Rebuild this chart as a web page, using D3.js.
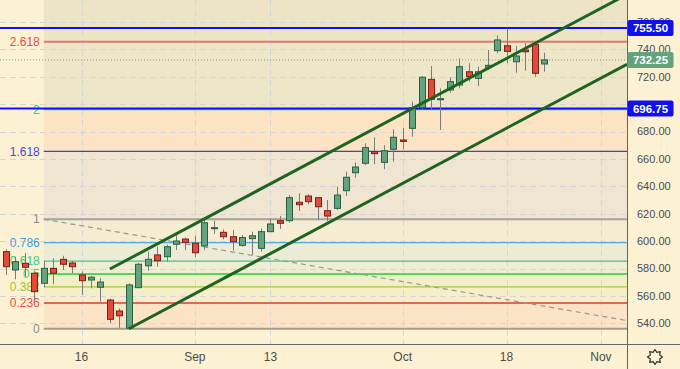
<!DOCTYPE html>
<html>
<head>
<meta charset="utf-8">
<script src="https://cdn.jsdelivr.net/npm/d3@7"></script>
<style>
  body { margin: 0; background: #fdf1d3; }
  svg { display: block; font-family: "Liberation Sans", Arial, sans-serif; }
</style>
</head>
<body>
<svg id="chart" width="680" height="369"></svg>
<script>
// daily candles, Aug 4 -> Oct 22
const dates = ["08-04","08-05","08-06","08-09","08-10","08-11","08-12","08-13","08-16","08-17",
  "08-18","08-19","08-20","08-23","08-24","08-25","08-26","08-27","08-30","08-31",
  "09-01","09-02","09-03","09-06","09-07","09-08","09-09","09-10","09-13","09-14",
  "09-15","09-16","09-17","09-20","09-21","09-22","09-23","09-24","09-27","09-28",
  "09-29","09-30","10-01","10-04","10-05","10-06","10-07","10-08","10-11","10-12",
  "10-13","10-14","10-15","10-18","10-19","10-20","10-21","10-22"]
const opens = [592.3,578.9,583.8,576.5,569.2,580.1,586.7,584.0,575.3,571.6,
  566.3,557.0,549.0,536.4,566.0,582.0,589.9,588.6,597.7,601.5,
  598.4,596.4,609.1,606.4,603.2,596.9,601.8,594.7,606.9,614.9,
  614.9,628.3,632.9,631.7,622.2,623.9,636.8,649.9,656.8,665.3,
  657.5,667.0,673.8,682.3,697.4,718.1,703.2,710.3,713.9,723.6,
  718.8,726.9,739.0,742.6,730.9,739.5,743.6,729.3]
const highs = [594.0,588.6,591.5,577.4,585.7,587.4,589.3,585.5,577.7,574.5,
  573.1,558.0,550.9,569.2,584.2,592.3,595.9,597.4,604.5,602.5,
  603.9,615.4,614.9,608.6,608.1,604.5,606.9,609.3,616.6,618.3,
  633.6,634.9,634.2,632.2,630.0,639.7,650.7,657.4,671.4,675.8,
  670.1,681.6,682.8,701.8,720.5,727.8,711.5,719.6,733.4,729.8,
  727.3,739.5,750.2,755.3,742.4,744.4,744.4,737.5]
const lows = [575.3,572.1,574.0,557.0,566.3,568.5,578.9,576.5,560.7,565.5,
  555.8,540.0,536.8,536.0,566.0,578.4,581.3,585.0,593.5,593.5,
  588.2,593.4,605.2,601.3,593.1,595.9,589.9,592.3,606.6,608.8,
  613.4,622.0,626.9,615.4,614.7,622.7,632.9,646.4,655.5,656.1,
  652.4,658.0,667.0,676.2,695.7,696.2,681.1,708.3,711.5,716.4,
  713.2,724.9,737.1,729.8,722.9,724.4,720.0,723.6]
const closes = [581.3,585.0,580.9,563.1,580.1,576.5,583.1,581.3,571.1,573.6,
  570.1,542.9,545.5,568.0,583.1,586.7,585.7,595.9,600.1,599.1,
  591.5,613.4,609.8,603.2,599.6,602.6,603.9,606.9,612.5,613.0,
  631.7,626.6,628.8,625.1,618.3,633.6,646.6,654.1,668.2,663.8,
  666.0,675.8,672.8,697.4,719.6,703.5,703.9,716.4,727.3,720.0,
  723.6,728.3,746.8,738.5,735.1,738.2,722.5,732.25]

// time axis labels (candle index -> text)
const timeTickIdx = [8, 20, 28, 42, 53, 63]
const timeTickText = ["16", "Sep", "13", "Oct", "18", "Nov"]
const priceTicks = [540, 560, 580, 600, 620, 640, 660, 680, 700, 720, 740, 760]
// 700.00 sits fully under the 696.75 tag in the chart, so no label for it
const priceTickLabels = [540, 560, 580, 600, 620, 640, 660, 680, 720, 740, 760]

// fibonacci retracement tool
const fibStartIdx = 4
const fibLow = 536, fibHigh = 616
const fibRatios = [0, 0.236, 0.382, 0.5, 0.618, 0.786, 1, 1.618, 2, 2.618, 3.618]
const fibLabels = ["0", "0.236", "0.382", "0.5", "0.618", "0.786", "1", "1.618", "2", "2.618", ""]
const fibLineColors = ["#a39c90", "#e2665c", "#a8c63e", "#5dd35d", "#45c28e", "#55a6da", "#a6a29a", "#4040d8", "#30c8a2", "#e27a6e", "#c080c0"]
const fibLineWidths = [2, 2, 1.3, 2, 1.3, 1.3, 2, 1.2, 1.2, 2, 1]
const fibTextColors = ["#8a8a8a", "#e0504a", "#a2c23a", "#4ccd4c", "#35c98a", "#3fa0e0", "#8a8a8a", "#4848e0", "#2ec98f", "#e0504a", "#c080c0"]
// fill of the band above each level
const fibZoneColors = ["#fbe3c6", "#f6eec9", "#f1efc9", "#eeeed3", "#ecebd6", "#f4ecd3", "#f0e5d0", "#fbe3c3", "#eee6c8", "#ede4c6"]

// drawings
const trendLine = [[4, 616], [65.75, 542]]
const channelUpper = [[11, 579.6], [65.75, 780]]
const channelLower = [[13, 536], [65.75, 729.1]]
const blueLevels = [755.5, 696.75]
const lastPrice = 732.25

const plotW = 627, plotH = 344
const svg = d3.select("#chart")

const x = d3.scaleLinear().domain([0, 57]).range([6, 544.3])
const y = d3.scaleLinear().domain([540, 740]).range([323.3, 49.3])

svg.append("defs").append("clipPath").attr("id", "plotClip")
  .append("rect").attr("width", plotW).attr("height", plotH)

svg.append("rect").attr("width", 680).attr("height", 369).attr("fill", "#fdf1d3")

const plot = svg.append("g").attr("clip-path", "url(#plotClip)")

const fibPrice = r => fibLow + r * (fibHigh - fibLow)
const fibX0 = x(fibStartIdx)

// zone fills
plot.append("g").selectAll("rect")
  .data(fibZoneColors)
  .join("rect")
  .attr("x", fibX0)
  .attr("width", plotW - fibX0)
  .attr("y", (d, i) => y(fibPrice(fibRatios[i + 1])))
  .attr("height", (d, i) => y(fibPrice(fibRatios[i])) - y(fibPrice(fibRatios[i + 1])))
  .attr("fill", d => d)

// grid
const grid = plot.append("g").attr("stroke", "#d4d6dc").attr("stroke-dasharray", "6,4").attr("stroke-width", 1)
grid.selectAll("line.h")
  .data(priceTicks)
  .join("line")
  .attr("class", "h")
  .attr("x1", 0).attr("x2", plotW)
  .attr("y1", d => Math.round(y(d)) + 0.5).attr("y2", d => Math.round(y(d)) + 0.5)
grid.selectAll("line.v")
  .data(timeTickIdx)
  .join("line")
  .attr("class", "v")
  .attr("y1", 0).attr("y2", plotH)
  .attr("x1", d => Math.round(x(d)) + 0.5).attr("x2", d => Math.round(x(d)) + 0.5)

// fib level lines
plot.append("g").selectAll("line")
  .data(fibRatios)
  .join("line")
  .attr("x1", fibX0).attr("x2", plotW)
  .attr("y1", d => y(fibPrice(d))).attr("y2", d => y(fibPrice(d)))
  .attr("stroke", (d, i) => fibLineColors[i])
  .attr("stroke-width", (d, i) => fibLineWidths[i])

// fib labels
plot.append("g").selectAll("text")
  .data(fibRatios)
  .join("text")
  .attr("x", fibX0 - 4)
  .attr("y", d => y(fibPrice(d)))
  .attr("dy", "0.35em")
  .attr("text-anchor", "end")
  .attr("font-size", 12)
  .attr("fill", (d, i) => fibTextColors[i])
  .text((d, i) => fibLabels[i])

const line = d3.line().x(d => x(d[0])).y(d => y(d[1]))

// dashed trend line of the fib
plot.append("path")
  .attr("d", line(trendLine))
  .attr("fill", "none")
  .attr("stroke", "#9a9893")
  .attr("stroke-width", 1.2)
  .attr("stroke-dasharray", "5,4")

// horizontal blue lines
plot.append("g").selectAll("line")
  .data(blueLevels)
  .join("line")
  .attr("x1", 0).attr("x2", plotW)
  .attr("y1", d => y(d)).attr("y2", d => y(d))
  .attr("stroke", "#1010f0")
  .attr("stroke-width", 2)

// last price dotted line
plot.append("line")
  .attr("x1", 0).attr("x2", plotW)
  .attr("y1", y(lastPrice)).attr("y2", y(lastPrice))
  .attr("stroke", "#6aa783")
  .attr("stroke-dasharray", "1,2")

// candles
const idx = d3.range(dates.length)
const candles = plot.append("g")
candles.selectAll("line")
  .data(idx)
  .join("line")
  .attr("x1", i => Math.round(x(i)) + 0.5).attr("x2", i => Math.round(x(i)) + 0.5)
  .attr("y1", i => y(highs[i])).attr("y2", i => y(lows[i]))
  .attr("stroke", "#7a7a7a")

candles.selectAll("rect")
  .data(idx)
  .join("rect")
  .attr("x", i => Math.round(x(i)) - 2.5)
  .attr("width", 6)
  .attr("y", i => y(Math.max(opens[i], closes[i])))
  .attr("height", i => Math.max(1, Math.abs(y(opens[i]) - y(closes[i]))))
  .attr("fill", i => closes[i] >= opens[i] ? "#62a47f" : "#e04b3c")
  .attr("stroke", i => closes[i] >= opens[i] ? "#2c5f40" : "#7a1e16")
  .attr("stroke-width", 1)

// parallel channel
plot.append("g").selectAll("path")
  .data([channelUpper, channelLower])
  .join("path")
  .attr("d", line)
  .attr("fill", "none")
  .attr("stroke", "#1e6420")
  .attr("stroke-width", 3)

// axes frame
svg.append("line").attr("x1", plotW + 0.5).attr("x2", plotW + 0.5).attr("y1", 0).attr("y2", 369)
  .attr("stroke", "#62646a")
svg.append("line").attr("x1", 0).attr("x2", 680).attr("y1", plotH + 0.5).attr("y2", plotH + 0.5)
  .attr("stroke", "#62646a")

// price axis labels
svg.append("g").selectAll("text")
  .data(priceTickLabels)
  .join("text")
  .attr("x", 637)
  .attr("y", d => y(d))
  .attr("dy", "0.35em")
  .attr("font-size", 11)
  .attr("fill", "#4c4c4c")
  .text(d => d3.format(".2f")(d))

// time axis labels
svg.append("g").selectAll("text")
  .data(timeTickIdx)
  .join("text")
  .attr("x", d => x(d))
  .attr("y", 357)
  .attr("dy", "0.35em")
  .attr("text-anchor", "middle")
  .attr("font-size", 12)
  .attr("fill", "#4c4c4c")
  .text((d, i) => timeTickText[i])

// value tags on the price axis
const tags = [
  {v: blueLevels[0], fill: "#1010f0"},
  {v: lastPrice, fill: "#62a27c"},
  {v: blueLevels[1], fill: "#1010f0"}
]
const tag = svg.append("g").selectAll("g")
  .data(tags)
  .join("g")
  .attr("transform", d => `translate(${plotW + 0.5},${y(d.v)})`)
tag.append("rect")
  .attr("x", 0).attr("y", -8).attr("width", 46).attr("height", 16).attr("rx", 2)
  .attr("fill", d => d.fill)
tag.append("text")
  .attr("x", 23).attr("dy", "0.36em")
  .attr("text-anchor", "middle")
  .attr("font-size", 11.5)
  .attr("font-weight", "bold")
  .attr("fill", "white")
  .text(d => d3.format(".2f")(d.v))

// settings gear, bottom right
const gearPts = d3.range(16).map(k => {
  const a = k * Math.PI / 8, r = k % 2 ? 5 : 7.5
  return [655 + r * Math.cos(a), 357 + r * Math.sin(a)]
})
svg.append("path")
  .attr("d", "M" + gearPts.join("L") + "Z")
  .attr("fill", "none")
  .attr("stroke", "#333")
  .attr("stroke-width", 1.2)
  .attr("stroke-linejoin", "round")
</script>
</body>
</html>
